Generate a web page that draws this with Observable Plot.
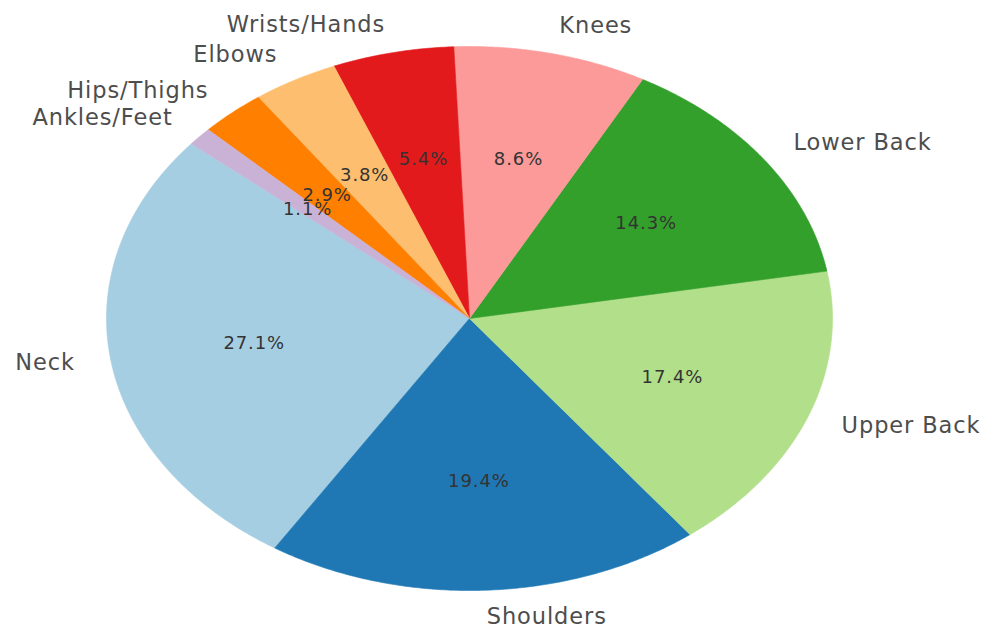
<!DOCTYPE html>
<html>
<head>
<meta charset="utf-8">
<script src="https://cdn.jsdelivr.net/npm/d3@7"></script>
<script src="https://cdn.jsdelivr.net/npm/@observablehq/plot@0.6"></script>
<style>
  html, body { margin: 0; padding: 0; background: #fff; }
  svg { display: block; }
  svg g[aria-label="text"] { letter-spacing: 0.9px; }
</style>
</head>
<body>
<div id="chart"></div>
<script>
// Data (counter-clockwise order, matplotlib style, start angle 140°)
const labels = ["Neck", "Shoulders", "Upper Back", "Lower Back", "Knees", "Wrists/Hands", "Elbows", "Hips/Thighs", "Ankles/Feet"];
const values = [27.1, 19.4, 17.4, 14.3, 8.6, 5.4, 3.8, 2.9, 1.1];
const colors = ["#a6cee3", "#1f78b4", "#b2df8a", "#33a02c", "#fb9a99", "#e31a1c", "#fdbf6f", "#ff7f00", "#cab2d6"];
const startAngle = 140;

const total = d3.sum(values);
const slicePts = [];
const labelRows = [];
let a0 = startAngle;
labels.forEach((label, i) => {
  const span = values[i] / total * 360;
  const a1 = a0 + span;
  const n = Math.max(2, Math.ceil(span / 0.5));
  slicePts.push({label, x: 0, y: 0});
  for (let k = 0; k <= n; k++) {
    const t = (a0 + span * k / n) * Math.PI / 180;
    slicePts.push({label, x: Math.cos(t), y: Math.sin(t)});
  }
  slicePts.push({label, x: 0, y: 0});
  const m = (a0 + a1) / 2 * Math.PI / 180;
  const cx = Math.cos(m), cy = Math.sin(m);
  labelRows.push({
    label,
    pct: values[i].toFixed(1) + "%",
    lx: 1.1 * cx, ly: 1.1 * cy,
    px: 0.6 * cx, py: 0.6 * cy,
    anchor: cx >= 0 ? "start" : "end"
  });
  a0 = a1;
});

const W = 985, H = 626;
const CX = 469, CY = 318, RX = 363, RY = 272;

const chart = Plot.plot({
  width: W,
  height: H,
  margin: 0,
  x: {domain: [-CX / RX, (W - CX) / RX], range: [0, W], axis: null},
  y: {domain: [-(H - CY) / RY, CY / RY], range: [H, 0], axis: null},
  color: {domain: labels, range: colors},
  style: {fontFamily: "DejaVu Sans, sans-serif", background: "#fff"},
  marks: [
    Plot.line(slicePts, {x: "x", y: "y", z: "label", fill: "label", stroke: "label", strokeWidth: 0.6, curve: "linear"}),
    Plot.text(labelRows.filter(d => d.anchor === "start"), {x: "lx", y: "ly", dy: -1, text: "label", textAnchor: "start", fontSize: 22.5, fill: "#4d4d4d"}),
    Plot.text(labelRows.filter(d => d.anchor === "end"), {x: "lx", y: "ly", dy: -1, text: "label", textAnchor: "end", fontSize: 22.5, fill: "#4d4d4d"}),
    Plot.text(labelRows, {x: "px", y: "py", text: "pct", fontSize: 18, fill: "#333"})
  ]
});

document.getElementById("chart").appendChild(chart);
</script>
</body>
</html>
